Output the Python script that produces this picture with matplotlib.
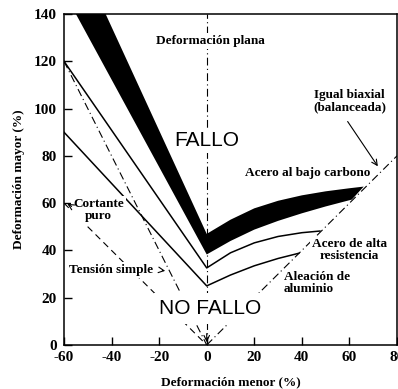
import matplotlib
matplotlib.use("Agg")
import matplotlib.pyplot as plt

plt.rcParams['font.family'] = ['Liberation Serif', 'DejaVu Serif']

# Forming limit curves (minor strain %, major strain %)
lcs_lower_x = [-55.0, 0.0, 10, 20, 30, 40, 50, 61]
lcs_lower_y = [140.0, 38.3, 44.0, 48.8, 52.5, 55.7, 58.6, 61.5]
lcs_upper_x = [-42.5, 0.0, 10, 20, 30, 40, 50, 60, 66]
lcs_upper_y = [140.0, 47.0, 53.0, 57.8, 61.0, 63.3, 65.0, 66.3, 67.0]

hss_x = [-60, 0, 10, 20, 30, 40, 47.6]
hss_y = [120, 32.6, 39.0, 43.2, 45.9, 47.5, 48.2]

al_x = [-60, 0, 10, 20, 30, 38.7]
al_y = [90, 25.0, 29.6, 33.5, 36.6, 38.8]

# Strain paths
tension_x = [-60, 0]
tension_y = [120, 0]
shear_x = [-60, 0]
shear_y = [60, 0]
plane_x = [0, 0]
plane_y = [0, 140]
biaxial_x = [0, 80]
biaxial_y = [0, 80]

x_ticks = [-60, -40, -20, 0, 20, 40, 60, 80]
y_ticks = [0, 20, 40, 60, 80, 100, 120, 140]

fig = plt.figure(figsize=(3.98, 3.89), dpi=100)
ax = fig.add_axes([64/398, 44/389, 333/398, 331/389])
ax.set_xlim(-60, 80)
ax.set_ylim(0, 140)

dashdot = (0, (7, 3, 1, 3))
ax.plot(tension_x, tension_y, color='black', lw=0.8, ls=dashdot, zorder=2)
ax.plot(shear_x, shear_y, color='black', lw=0.8, ls=(0, (6, 4)), zorder=2)
ax.plot(plane_x, plane_y, color='black', lw=0.8, ls=dashdot, zorder=2)
ax.plot(biaxial_x, biaxial_y, color='black', lw=0.8, ls=dashdot, zorder=2)

ax.plot(hss_x, hss_y, color='black', lw=1.1, zorder=3)
ax.plot(al_x, al_y, color='black', lw=1.1, zorder=3)

band_x = lcs_lower_x + lcs_upper_x[::-1]
band_y = lcs_lower_y + lcs_upper_y[::-1]
ax.fill(band_x, band_y, color='black', lw=0, zorder=4)

ax.set_xticks(x_ticks)
ax.set_xticklabels([str(v) for v in x_ticks])
ax.set_yticks(y_ticks)
ax.set_yticklabels([str(v) for v in y_ticks])
ax.tick_params(direction='in', length=6, width=1.0, labelsize=11, pad=4)
ax.tick_params(axis='y', pad=5)
for lbl in ax.get_xticklabels() + ax.get_yticklabels():
    lbl.set_fontweight('bold')
for s in ax.spines.values():
    s.set_linewidth(1.1)

ax.set_xlabel('Deformación menor (%)', fontsize=9.5, fontweight='bold')
ax.set_ylabel('Deformación mayor (%)', fontsize=9.5, fontweight='bold')
ax.xaxis.set_label_coords(0.5, -0.094)
ax.yaxis.set_label_coords(-0.116, 0.5)

box = dict(facecolor='white', edgecolor='none', pad=1.5)
tkw = dict(fontsize=9.5, fontweight='bold', zorder=6)

ax.text(1.5, 128.5, 'Deformación plana', ha='center', va='center', bbox=box, **tkw)
ax.text(0, 86.3, 'FALLO', ha='center', va='center', family='Liberation Sans',
        fontsize=15, zorder=6, bbox=dict(facecolor='white', edgecolor='none', pad=2))
ax.text(1.5, 15.4, 'NO FALLO', ha='center', va='center', family='Liberation Sans',
        fontsize=15, zorder=6, bbox=dict(facecolor='white', edgecolor='none', pad=4))

ax.text(60.1, 103.0, 'Igual biaxial\n(balanceada)', ha='center', va='center',
        linespacing=1.0, **tkw)
ax.annotate('', xy=(72.6, 74.6), xytext=(58.6, 95.5),
            arrowprops=dict(arrowstyle='->', lw=0.8, color='black'), zorder=6)

ax.text(42.6, 72.6, 'Acero al bajo carbono', ha='center', va='center', **tkw)
ax.text(60.0, 40.3, 'Acero de alta\nresistencia', ha='center', va='center',
        linespacing=1.0, bbox=box, **tkw)
ax.text(32.5, 26.3, 'Aleación de\naluminio', ha='left', va='center',
        linespacing=1.0, bbox=box, **tkw)

ax.text(-45.4, 57.2, 'Cortante\npuro', ha='center', va='center',
        linespacing=0.95, bbox=box, **tkw)
ax.annotate('', xy=(-59.6, 60.3), xytext=(-55.8, 58.0),
            arrowprops=dict(arrowstyle='->', lw=0.8, color='black'), zorder=6)

ax.text(-40.1, 31.7, 'Tensión simple', ha='center', va='center', bbox=box, **tkw)
ax.annotate('', xy=(-16.3, 31.2), xytext=(-19.8, 31.7),
            arrowprops=dict(arrowstyle='->', lw=0.8, color='black'), zorder=6)

ax.annotate('', xy=(0, 0), xytext=(0, 6),
            arrowprops=dict(arrowstyle='->', lw=0.8, color='black'), zorder=6)

fig.savefig('out.png', dpi=100)
